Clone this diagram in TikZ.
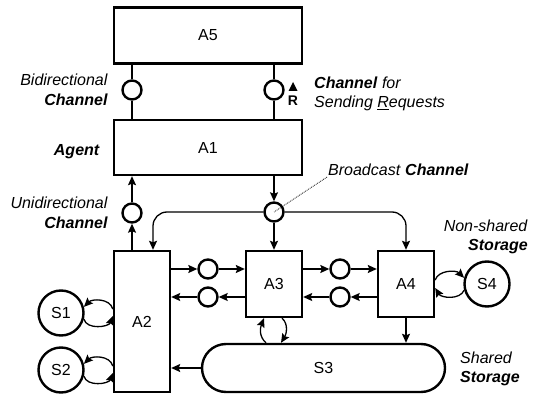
\documentclass[tikz,border=0pt]{standalone}
\usepackage{fontspec}
\setmainfont{Liberation Sans}
\usetikzlibrary{arrows.meta}
\tikzstyle{agent} = [rectangle, draw=black, line width=2.4pt,
                     inner sep=0pt, text centered]
\tikzstyle{storage} = [circle, draw=black, line width=2.4pt,
                       minimum size=45pt, inner sep=0pt]
\tikzstyle{channel} = [circle, draw=black, line width=2.4pt,
                       minimum size=19pt, inner sep=0pt]
\tikzstyle{note} = [inner sep=1pt]
\tikzstyle{link} = [line width=1.3pt]
\tikzstyle{arrow} = [line width=1.3pt,-{Stealth[length=9pt,width=8pt,inset=1.5pt]}]

\begin{document}
\begin{tikzpicture}[x=1pt, y=-1pt, font=\fontsize{16}{19.5}\selectfont]
        \useasboundingbox (0,0) rectangle (537,395);

        % agents
        \node (A5) [agent, minimum width=188pt, minimum height=56pt] at (208,35.5) {A5};
        \node (A1) [agent, minimum width=188pt, minimum height=55pt] at (208,147.5) {A1};
        \node (A2) [agent, minimum width=56pt, minimum height=141pt] at (142,321.5) {A2};
        \node (A3) [agent, minimum width=56pt, minimum height=66pt] at (274,284) {A3};
        \node (A4) [agent, minimum width=56pt, minimum height=66pt] at (406,284) {A4};

        % storages
        \node (S1) [storage] at (61,313) {S1};
        \node (S2) [storage] at (61,370) {S2};
        \node (S4) [storage] at (487,284) {S4};
        \node (S3) [agent, rounded corners=24pt, minimum width=243pt, minimum height=48pt] at (323.5,368) {S3};

        % channels
        \node (BiChannel) [channel] at (132,90) {};
        \node (ReqChannel) [channel] at (274,90) {};
        \node (UniChannel) [channel] at (132,213) {};
        \node (BcastChannel) [channel] at (274,212) {};
        \node (ChA2toA3) [channel] at (208,269) {};
        \node (ChA3toA2) [channel] at (208,297) {};
        \node (ChA3toA4) [channel] at (340,269) {};
        \node (ChA4toA3) [channel] at (340,297) {};

        % texts
        \node (BiText) [note, anchor=east, align=right] at (109,90) {\textit{Bidirectional}\\\textbf{\textit{Channel}}};
        \node (AgentText) [note, anchor=east] at (101,152) {\textbf{\textit{Agent}}};
        \node (UniText) [note, anchor=east, align=right] at (109,213) {\textit{Unidirectional}\\\textbf{\textit{Channel}}};
        \node (ReqText) [note, anchor=west, align=left] at (313,94) {\textbf{\textit{Channel}} \textit{for}\\\textit{Sending \underline{R}equests}};
        \node (BcastText) [note, anchor=west] at (327,170) {\textit{Broadcast} \textbf{\textit{Channel}}};
        \node (NonSharedText) [note, anchor=east, align=right] at (529,237) {\textit{Non-shared}\\\textbf{\textit{Storage}}};
        \node (SharedText) [note, anchor=west, align=left] at (459,369) {\textit{Shared}\\\textbf{\textit{Storage}}};
        \node (ReqMark) [inner sep=0pt, font=\fontsize{14}{16}\selectfont\bfseries] at (293,100.5) {R};
        \fill (288.5,91) -- (297.5,91) -- (293,82) -- cycle;

        % bidirectional channels
        \draw [link] (BiChannel) -- (BiChannel |- A5.south);
        \draw [link] (BiChannel) -- (BiChannel |- A1.north);
        \draw [link] (ReqChannel) -- (ReqChannel |- A5.south);
        \draw [link] (ReqChannel) -- (ReqChannel |- A1.north);

        % unidirectional channel
        \draw [arrow] (UniChannel |- A2.north) -- (UniChannel);
        \draw [arrow] (UniChannel) -- (UniChannel |- A1.south);

        % broadcast channel
        \draw [arrow] (BcastChannel |- A1.south) -- (BcastChannel);
        \draw [arrow] (BcastChannel) -- (A3);
        \draw [arrow, rounded corners=14pt] (BcastChannel) -| ([xshift=11pt]A2.north);
        \draw [arrow, rounded corners=14pt] (BcastChannel) -| (A4.north);
        \draw [densely dotted, line width=0.8pt] (BcastText.south west) -- (BcastChannel.center);

        % peer channels
        \draw [arrow] (A2.east |- ChA2toA3) -- (ChA2toA3);
        \draw [arrow] (ChA2toA3) -- (A3.west |- ChA2toA3);
        \draw [arrow] (A3.west |- ChA3toA2) -- (ChA3toA2);
        \draw [arrow] (ChA3toA2) -- (A2.east |- ChA3toA2);
        \draw [arrow] (A3.east |- ChA3toA4) -- (ChA3toA4);
        \draw [arrow] (ChA3toA4) -- (A4.west |- ChA3toA4);
        \draw [arrow] (A4.west |- ChA4toA3) -- (ChA4toA3);
        \draw [arrow] (ChA4toA3) -- (A3.east |- ChA4toA3);

        % shared storage
        \draw [arrow] (A4.south) -- (A4.south |- S3.north);
        \draw [arrow] (S3.west) -- (S3.west -| A2.east);
        \draw [arrow] (S3.north -| 266,0) .. controls +(-7,-6) and +(-4,10) .. (A3.south -| 264,0);
        \draw [arrow] (A3.south -| 282,0) .. controls +(7,6) and +(5,-8) .. (S3.north -| 281,0);

        % non-shared storage
        \draw [arrow] (A2.west |- 0,309) .. controls +(-3,-11) and +(8,-8) .. (S1.15);
        \draw [arrow] (S1.-15) .. controls +(3,11) and +(-4,11) .. (A2.west |- 0,316);
        \draw [arrow] (A2.west |- 0,366) .. controls +(-3,-11) and +(8,-8) .. (S2.15);
        \draw [arrow] (S2.-15) .. controls +(3,11) and +(-4,11) .. (A2.west |- 0,373);
        \draw [arrow] (A4.east |- 0,280) .. controls +(3,-10) and +(-8,-8) .. (S4.165);
        \draw [arrow] (S4.195) .. controls +(-4,10) and +(6,10) .. (A4.east |- 0,288);

\end{tikzpicture}
\end{document}
